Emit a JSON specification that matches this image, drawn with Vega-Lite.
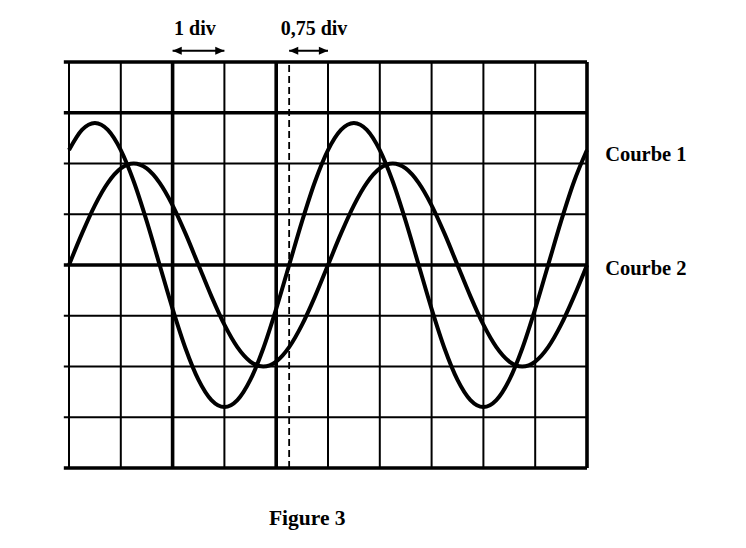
{
  "$schema": "https://vega.github.io/schema/vega-lite/v6.json",
  "width": 518,
  "height": 406,
  "autosize": {"type": "none"},
  "padding": {"left": 69, "top": 62, "right": 159, "bottom": 80},
  "background": "white",
  "config": {"view": {"stroke": null}},
  "datasets": {
    "curves": [
      {"t": 0, "c1": 2.265, "c2": 0},
      {"t": 0.25, "c1": 2.663, "c2": 0.618},
      {"t": 0.5, "c1": 2.8, "c2": 1.176},
      {"t": 0.75, "c1": 2.663, "c2": 1.618},
      {"t": 1, "c1": 2.265, "c2": 1.902},
      {"t": 1.25, "c1": 1.646, "c2": 2},
      {"t": 1.5, "c1": 0.865, "c2": 1.902},
      {"t": 1.75, "c1": 0, "c2": 1.618},
      {"t": 2, "c1": -0.865, "c2": 1.176},
      {"t": 2.25, "c1": -1.646, "c2": 0.618},
      {"t": 2.5, "c1": -2.265, "c2": 0},
      {"t": 2.75, "c1": -2.663, "c2": -0.618},
      {"t": 3, "c1": -2.8, "c2": -1.176},
      {"t": 3.25, "c1": -2.663, "c2": -1.618},
      {"t": 3.5, "c1": -2.265, "c2": -1.902},
      {"t": 3.75, "c1": -1.646, "c2": -2},
      {"t": 4, "c1": -0.865, "c2": -1.902},
      {"t": 4.25, "c1": 0, "c2": -1.618},
      {"t": 4.5, "c1": 0.865, "c2": -1.176},
      {"t": 4.75, "c1": 1.646, "c2": -0.618},
      {"t": 5, "c1": 2.265, "c2": 0},
      {"t": 5.25, "c1": 2.663, "c2": 0.618},
      {"t": 5.5, "c1": 2.8, "c2": 1.176},
      {"t": 5.75, "c1": 2.663, "c2": 1.618},
      {"t": 6, "c1": 2.265, "c2": 1.902},
      {"t": 6.25, "c1": 1.646, "c2": 2},
      {"t": 6.5, "c1": 0.865, "c2": 1.902},
      {"t": 6.75, "c1": 0, "c2": 1.618},
      {"t": 7, "c1": -0.865, "c2": 1.176},
      {"t": 7.25, "c1": -1.646, "c2": 0.618},
      {"t": 7.5, "c1": -2.265, "c2": 0},
      {"t": 7.75, "c1": -2.663, "c2": -0.618},
      {"t": 8, "c1": -2.8, "c2": -1.176},
      {"t": 8.25, "c1": -2.663, "c2": -1.618},
      {"t": 8.5, "c1": -2.265, "c2": -1.902},
      {"t": 8.75, "c1": -1.646, "c2": -2},
      {"t": 9, "c1": -0.865, "c2": -1.902},
      {"t": 9.25, "c1": 0, "c2": -1.618},
      {"t": 9.5, "c1": 0.865, "c2": -1.176},
      {"t": 9.75, "c1": 1.646, "c2": -0.618},
      {"t": 10, "c1": 2.265, "c2": 0}
    ],
    "vgrid": [
      {"pos": 0, "kind": "thin"},
      {"pos": 1, "kind": "thin"},
      {"pos": 2, "kind": "thick"},
      {"pos": 3, "kind": "thin"},
      {"pos": 4, "kind": "thick"},
      {"pos": 5, "kind": "thin"},
      {"pos": 6, "kind": "thin"},
      {"pos": 7, "kind": "thin"},
      {"pos": 8, "kind": "thin"},
      {"pos": 9, "kind": "thin"},
      {"pos": 10, "kind": "thick"}
    ],
    "hgrid": [
      {"pos": -4, "kind": "thick"},
      {"pos": -3, "kind": "thin"},
      {"pos": -2, "kind": "thin"},
      {"pos": -1, "kind": "thin"},
      {"pos": 0, "kind": "thick"},
      {"pos": 1, "kind": "thin"},
      {"pos": 2, "kind": "thin"},
      {"pos": 3, "kind": "thick"},
      {"pos": 4, "kind": "thick"}
    ],
    "arrows": [
      {"a": 2, "b": 3, "y": 4.22},
      {"a": 4.25, "b": 5, "y": 4.22}
    ],
    "notes": [
      {"label": "1 div", "x": 2.43, "y": 4.65},
      {"label": "0,75 div", "x": 4.73, "y": 4.65}
    ],
    "names": [
      {"label": "Courbe 1", "x": 10.35, "y": 2.17},
      {"label": "Courbe 2", "x": 10.35, "y": -0.08}
    ],
    "caption": [
      {"label": "Figure 3", "x": 4.6, "y": -5.0}
    ]
  },
  "layer": [
    {
      "data": {"name": "vgrid"},
      "mark": {"type": "rule", "color": "black"},
      "encoding": {
        "x": {"field": "pos", "type": "quantitative", "scale": {"domain": [0, 10], "nice": false, "zero": false}, "axis": null},
        "y": {"datum": -4, "type": "quantitative", "scale": {"domain": [-4, 4], "nice": false, "zero": false}, "axis": null},
        "y2": {"datum": 4},
        "strokeWidth": {"field": "kind", "type": "nominal", "scale": {"domain": ["thin", "thick"], "range": [2, 3.6]}, "legend": null}
      }
    },
    {
      "data": {"name": "hgrid"},
      "mark": {"type": "rule", "color": "black"},
      "encoding": {
        "y": {"field": "pos", "type": "quantitative", "scale": {"domain": [-4, 4], "nice": false, "zero": false}, "axis": null},
        "x": {"datum": -0.1, "type": "quantitative", "scale": {"domain": [0, 10], "nice": false, "zero": false}, "axis": null},
        "x2": {"datum": 10},
        "strokeWidth": {"field": "kind", "type": "nominal", "scale": {"domain": ["thin", "thick"], "range": [2, 3.6]}, "legend": null}
      }
    },
    {
      "data": {"values": [{"x": 4.25}]},
      "mark": {"type": "rule", "color": "black", "strokeWidth": 1.8, "strokeDash": [7, 4]},
      "encoding": {
        "x": {"field": "x", "type": "quantitative", "scale": {"domain": [0, 10], "nice": false, "zero": false}, "axis": null},
        "y": {"datum": -4, "type": "quantitative", "scale": {"domain": [-4, 4], "nice": false, "zero": false}, "axis": null},
        "y2": {"datum": 4}
      }
    },
    {
      "data": {"name": "curves"},
      "mark": {"type": "line", "color": "black", "strokeWidth": 4, "interpolate": "monotone"},
      "encoding": {
        "x": {"field": "t", "type": "quantitative", "scale": {"domain": [0, 10], "nice": false, "zero": false}, "axis": null},
        "y": {"field": "c1", "type": "quantitative", "scale": {"domain": [-4, 4], "nice": false, "zero": false}, "axis": null}
      }
    },
    {
      "data": {"name": "curves"},
      "mark": {"type": "line", "color": "black", "strokeWidth": 4, "interpolate": "monotone"},
      "encoding": {
        "x": {"field": "t", "type": "quantitative", "scale": {"domain": [0, 10], "nice": false, "zero": false}, "axis": null},
        "y": {"field": "c2", "type": "quantitative", "scale": {"domain": [-4, 4], "nice": false, "zero": false}, "axis": null}
      }
    },
    {
      "data": {"name": "arrows"},
      "mark": {"type": "rule", "color": "black", "strokeWidth": 2},
      "encoding": {
        "x": {"field": "a", "type": "quantitative", "scale": {"domain": [0, 10], "nice": false, "zero": false}, "axis": null},
        "x2": {"field": "b"},
        "y": {"field": "y", "type": "quantitative", "scale": {"domain": [-4, 4], "nice": false, "zero": false}, "axis": null}
      }
    },
    {
      "data": {"name": "arrows"},
      "mark": {"type": "point", "filled": true, "color": "black", "opacity": 1, "strokeWidth": 0, "size": 130, "shape": "M0,0L-1.6,-0.7L-1.6,0.7Z"},
      "encoding": {
        "x": {"field": "b", "type": "quantitative", "scale": {"domain": [0, 10], "nice": false, "zero": false}, "axis": null},
        "y": {"field": "y", "type": "quantitative", "scale": {"domain": [-4, 4], "nice": false, "zero": false}, "axis": null}
      }
    },
    {
      "data": {"name": "arrows"},
      "mark": {"type": "point", "filled": true, "color": "black", "opacity": 1, "strokeWidth": 0, "size": 130, "shape": "M0,0L1.6,-0.7L1.6,0.7Z"},
      "encoding": {
        "x": {"field": "a", "type": "quantitative", "scale": {"domain": [0, 10], "nice": false, "zero": false}, "axis": null},
        "y": {"field": "y", "type": "quantitative", "scale": {"domain": [-4, 4], "nice": false, "zero": false}, "axis": null}
      }
    },
    {
      "data": {"name": "notes"},
      "mark": {"type": "text", "font": "Liberation Serif", "fontWeight": "bold", "fontSize": 20, "color": "black", "align": "center", "baseline": "middle"},
      "encoding": {
        "x": {"field": "x", "type": "quantitative", "scale": {"domain": [0, 10], "nice": false, "zero": false}, "axis": null},
        "y": {"field": "y", "type": "quantitative", "scale": {"domain": [-4, 4], "nice": false, "zero": false}, "axis": null},
        "text": {"field": "label", "type": "nominal"}
      }
    },
    {
      "data": {"name": "names"},
      "mark": {"type": "text", "font": "Liberation Serif", "fontWeight": "bold", "fontSize": 20.5, "color": "black", "align": "left", "baseline": "middle"},
      "encoding": {
        "x": {"field": "x", "type": "quantitative", "scale": {"domain": [0, 10], "nice": false, "zero": false}, "axis": null},
        "y": {"field": "y", "type": "quantitative", "scale": {"domain": [-4, 4], "nice": false, "zero": false}, "axis": null},
        "text": {"field": "label", "type": "nominal"}
      }
    },
    {
      "data": {"name": "caption"},
      "mark": {"type": "text", "font": "Liberation Serif", "fontWeight": "bold", "fontSize": 21.5, "color": "black", "align": "center", "baseline": "middle"},
      "encoding": {
        "x": {"field": "x", "type": "quantitative", "scale": {"domain": [0, 10], "nice": false, "zero": false}, "axis": null},
        "y": {"field": "y", "type": "quantitative", "scale": {"domain": [-4, 4], "nice": false, "zero": false}, "axis": null},
        "text": {"field": "label", "type": "nominal"}
      }
    }
  ]
}
